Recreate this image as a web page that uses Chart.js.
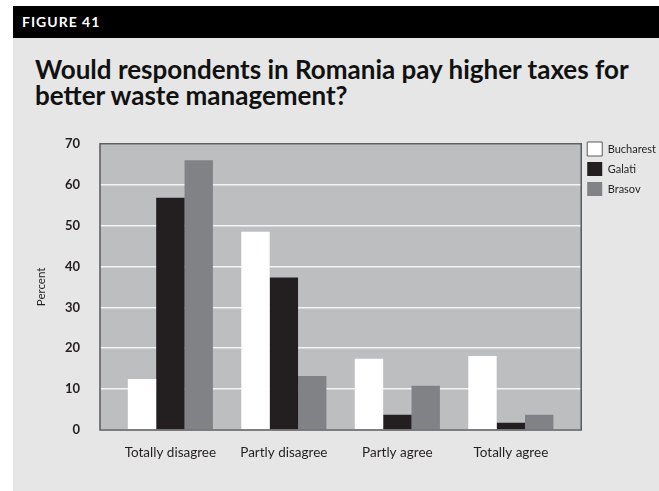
<!DOCTYPE html>
<html>
<head>
<meta charset="utf-8">
<title>Figure 41</title>
<script src="https://cdn.jsdelivr.net/npm/chart.js@4.4.1/dist/chart.umd.min.js"></script>
<style>
  html, body { margin: 0; padding: 0; background: #fff; }
  body { width: 659px; height: 491px; position: relative; overflow: hidden; font-family: Lato, "Open Sans", sans-serif; }
  .header {
    position: absolute; left: 13px; top: 6px; right: 0; height: 32px;
    background: #000; color: #fff; font-weight: 700; font-size: 14px;
    letter-spacing: 1px; line-height: 32px; padding-left: 9px;
  }
  .panel { position: absolute; left: 13px; top: 38px; right: 0; bottom: 0; background: #e6e6e6; }
  .panel h1 {
    position: absolute; left: 22px; top: 19px; margin: 0; white-space: nowrap;
    font-size: 26px; line-height: 25.5px; font-weight: 700; color: #111;
  }
  .chart-box { position: absolute; left: 0; top: 98px; width: 657px; height: 355px; }
</style>
</head>
<body>
<div class="header">FIGURE 41</div>
<div class="panel">
  <h1>Would respondents in Romania pay higher taxes for<br>better waste management?</h1>
  <div class="chart-box"><canvas id="chart"></canvas></div>
</div>

<script>
// survey answers, percent of respondents per city
const categories = ['Totally disagree', 'Partly disagree', 'Partly agree', 'Totally agree'];
const bucharest = [12.5, 48.5, 17.4, 18.1];
const galati = [56.8, 37.3, 3.7, 1.8];
const brasov = [66.0, 13.2, 10.8, 3.7];
const yTicks = [0, 10, 20, 30, 40, 50, 60, 70];

// bars sit on a numeric x axis so the groups can keep a wider side margin
const toPoints = (vals) => vals.map((v, i) => ({ x: i, y: v }));

const plotFrame = {
  id: 'plotFrame',
  beforeDraw(chart) {
    const { ctx, chartArea: a } = chart;
    ctx.save();
    ctx.fillStyle = '#bcbec0';
    ctx.fillRect(a.left, a.top, a.right - a.left, a.bottom - a.top);
    ctx.restore();
  },
  afterDatasetsDraw(chart) {
    const { ctx, chartArea: a } = chart;
    ctx.save();
    ctx.strokeStyle = '#58595b';
    ctx.lineWidth = 1.5;
    ctx.strokeRect(a.left, a.top, a.right - a.left, a.bottom - a.top);
    ctx.restore();
  }
};

const ctx = document.getElementById('chart').getContext('2d');
new Chart(ctx, {
  type: 'bar',
  data: {
    datasets: [
      { label: 'Bucharest', data: toPoints(bucharest), backgroundColor: '#ffffff' },
      { label: 'Galati', data: toPoints(galati), backgroundColor: '#231f20' },
      { label: 'Brasov', data: toPoints(brasov), backgroundColor: '#808285' }
    ]
  },
  options: {
    responsive: true,
    maintainAspectRatio: false,
    animation: false,
    layout: { padding: { left: 20, right: 4, top: 0, bottom: 0 } },
    datasets: { bar: { barPercentage: 1, categoryPercentage: 0.75, borderWidth: 0 } },
    scales: {
      x: {
        type: 'linear',
        offset: false,
        min: -0.62,
        max: 3.62,
        grid: { display: false, drawTicks: false },
        border: { display: false },
        ticks: {
          stepSize: 1,
          includeBounds: false,
          autoSkip: false,
          maxRotation: 0,
          padding: 15,
          color: '#231f20',
          font: { family: 'Lato', size: 13.5 },
          callback: (v) => categories[v]
        },
        afterFit: (scale) => { scale.height = 61; }
      },
      y: {
        min: 0,
        max: 70,
        afterBuildTicks: (scale) => { scale.ticks = yTicks.map((v) => ({ value: v })); },
        // invisible tick marks hold the labels away from the plot
        grid: { color: '#f4f4f4', lineWidth: 1.5, drawTicks: true, tickLength: 20, tickColor: 'rgba(0,0,0,0)' },
        border: { display: false },
        ticks: {
          padding: 0,
          color: '#231f20',
          font: { family: 'Lato', size: 13, weight: 'bold' }
        },
        title: {
          display: true,
          text: 'Percent',
          color: '#231f20',
          padding: { top: 1, bottom: 0 },
          font: { family: 'Lato', size: 11.5 }
        },
        afterFit: (scale) => { scale.width = 67; }
      }
    },
    plugins: {
      tooltip: { enabled: false },
      legend: {
        position: 'right',
        align: 'start',
        labels: {
          boxWidth: 15,
          boxHeight: 14,
          padding: 6,
          color: '#231f20',
          font: { family: 'Lato', size: 11 },
          generateLabels: (chart) =>
            Chart.defaults.plugins.legend.labels.generateLabels(chart).map((item) =>
              Object.assign(item, { strokeStyle: '#58595b', lineWidth: item.text === 'Bucharest' ? 1 : 0 }))
        }
      }
    }
  },
  plugins: [plotFrame]
});
</script>
</body>
</html>
